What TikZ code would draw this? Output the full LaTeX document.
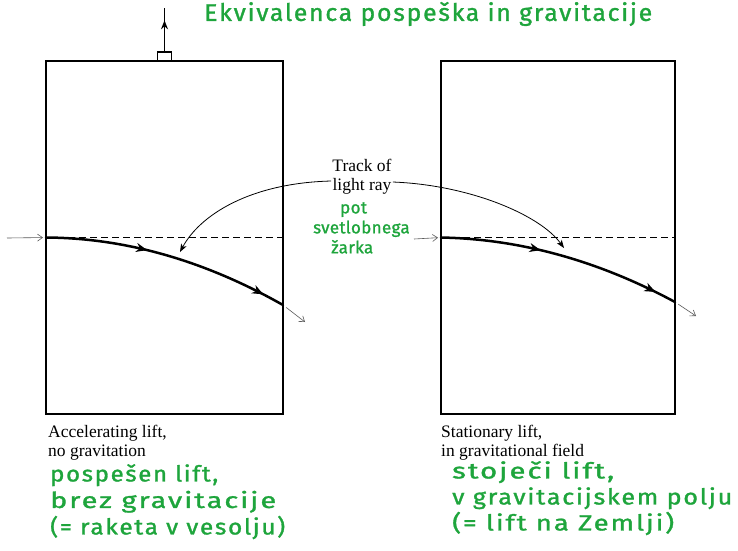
\documentclass[tikz,border=0pt]{standalone}
\usepackage{fontspec}
\setmainfont{Liberation Serif}
\newfontfamily\hand[LetterSpace=7, FakeBold=1.2]{Fira Sans}
\newfontfamily\handtight[LetterSpace=2, FakeBold=1.2]{Fira Sans}
\usetikzlibrary{arrows.meta,decorations.markings,calc}
\definecolor{handgreen}{RGB}{30,165,60}
\definecolor{thingray}{RGB}{90,90,90}
\newcommand\fitw[2]{\resizebox{#1}{\height}{#2}}
\tikzset{
  lift/.style={draw, line width=1.1pt, inner sep=0pt, outer sep=0pt, minimum height=353pt},
  handlebox/.style={draw, line width=1.1pt, inner sep=0pt, outer sep=0pt, minimum width=14pt, minimum height=9pt},
  rayline/.style={line width=2.5pt, line cap=round, postaction={decorate},
    decoration={markings,
      mark=at position 0.41 with {\arrow{Stealth[length=11pt,width=9pt,inset=3.5pt]}},
      mark=at position 0.91 with {\arrow{Stealth[length=11pt,width=9pt,inset=3.5pt]}}}},
  straight/.style={line width=0.9pt, dash pattern=on 7pt off 4pt},
  thinarrow/.style={thingray, line width=0.6pt, -{Straight Barb[length=5pt,width=7pt]}},
  pointer/.style={line width=0.8pt, -{Stealth[length=8pt,width=6pt,inset=2pt]}},
  printed/.style={font=\fontsize{17.5}{19}\selectfont, align=left, inner sep=0pt},
  greenhand/.style={handgreen, font=\hand\fontsize{22}{26.5}\selectfont, align=left, inner sep=0pt},
}
\begin{document}
\begin{tikzpicture}[x=1pt,y=-1pt]
\useasboundingbox (0,0) rectangle (738,550);
\fill[white] (0,0) rectangle (738,550);

% title
\node[handgreen, font=\hand\fontsize{24}{26}\selectfont, inner sep=0pt, anchor=west] (title) at (204,14) {\fitw{448pt}{Ekvivalenca pospeška in gravitacije}};

% boxes
\node[lift, minimum width=237pt] (boxL) at (164.5,237.5) {};
\node[lift, minimum width=234pt] (boxR) at (558,237.5) {};

% handle with arrow on top of left lift
\node[handlebox, anchor=south] (handle) at (boxL.north) {};
\coordinate (up) at (164.5,8);
\draw[line width=1.3pt, postaction={decorate},
  decoration={markings, mark=at position 0.72 with {\arrow{Stealth[length=9pt,width=7pt,inset=3pt]}}}]
  (handle.north) -- (up);

% left lift: straight reference line and curved ray
\coordinate (Lin) at (7,238);
\coordinate (Lout) at (283,305);
\coordinate (Lend) at (305,322);
\draw[straight] (boxL.west) -- (boxL.east);
\draw[thinarrow, shorten >=3pt] (Lin) -- (boxL.west);
\draw[rayline] (boxL.west) .. controls (125,238) and (204,260.3) .. (Lout);
\draw[thinarrow, shorten <=4pt] (Lout) -- (Lend);

% right lift
\coordinate (Rin) at (414,239);
\coordinate (Rout) at (675,302);
\coordinate (Rend) at (696,316);
\draw[straight] (boxR.west) -- (boxR.east);
\draw[thinarrow, shorten >=3pt] (Rin) -- (boxR.west);
\draw[rayline] (boxR.west) .. controls (519,239) and (597,260) .. (Rout);
\draw[thinarrow, shorten <=4pt] (Rout) -- (Rend);

% label in the middle
\node[printed, align=center] (track) at (362,177) {Track of\\light ray};
\node[handgreen, font=\handtight\fontsize{17}{20}\selectfont, align=left, inner sep=0pt, anchor=north west] (pot) at (313,202) {\hspace*{27pt}pot\\svetlobnega\\\hspace*{18pt}žarka};
\draw[pointer] ($(track.west)+(-1,4)$) .. controls (250,183) and (200,215) .. (180,252);
\draw[pointer] ($(track.east)+(1,5)$) .. controls (470,185) and (540,215) .. (564,248);

% captions
\node[printed, anchor=north west] (capL) at (48,425) {Accelerating lift,\\no gravitation};
\node[greenhand, anchor=north west] (greenL) at (50,464) {\fitw{168pt}{pospešen lift,}\\\fitw{226pt}{brez gravitacije}\\\fitw{235pt}{(= raketa v vesolju)}};
\node[printed, anchor=north west] (capR) at (441,425) {Stationary lift,\\in gravitational field};
\node[greenhand, font=\hand\fontsize{22}{26}\selectfont, anchor=north west] (greenR) at (452,461) {\fitw{162pt}{stoječi lift,}\\\fitw{280pt}{v gravitacijskem polju}\\\fitw{222pt}{(= lift na Zemlji)}};
\end{tikzpicture}
\end{document}
